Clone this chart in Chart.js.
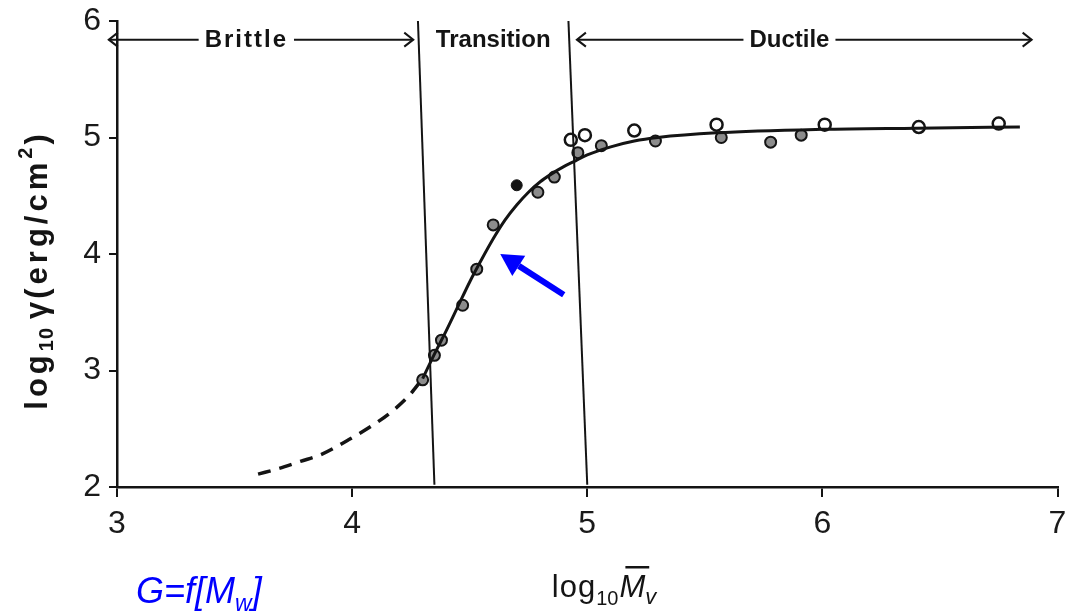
<!DOCTYPE html>
<html>
<head>
<meta charset="utf-8">
<script src="https://cdn.jsdelivr.net/npm/chart.js@4"></script>
<style>
  html, body { margin: 0; padding: 0; background: #fff; }
  #c { display: block; }
</style>
</head>
<body>
<canvas id="c" width="1066" height="612"></canvas>
<script>
// axis ticks
const xTicks = [3, 4, 5, 6, 7];
const yTicks = [2, 3, 4, 5, 6];

// measured points (log10 Mv, log10 gamma)
const hatchX = [4.30, 4.35, 4.38, 4.47, 4.53, 4.60, 4.79, 4.86, 4.96, 5.06, 5.29, 5.57, 5.78, 5.91];
const hatchY = [2.92, 3.13, 3.26, 3.56, 3.87, 4.25, 4.53, 4.66, 4.87, 4.93, 4.97, 5.00, 4.96, 5.02];
const openX = [4.93, 4.99, 5.20, 5.55, 6.01, 6.41, 6.75];
const openY = [4.98, 5.02, 5.06, 5.11, 5.11, 5.09, 5.12];
const filledX = [4.70];
const filledY = [4.59];

// fitted curve, solid part and extrapolated (dashed) part
const curveX = [4.30, 4.35, 4.40, 4.45, 4.50, 4.55, 4.60, 4.65, 4.70, 4.75, 4.80, 4.85, 4.90, 4.95, 5.00, 5.10, 5.20, 5.30, 5.55, 6.00, 6.40, 6.84];
const curveY = [2.93, 3.14, 3.34, 3.55, 3.76, 3.95, 4.13, 4.29, 4.42, 4.53, 4.62, 4.69, 4.75, 4.80, 4.85, 4.92, 4.97, 5.00, 5.04, 5.07, 5.08, 5.09];
const dashX = [3.60, 3.69, 3.78, 3.87, 3.98, 4.08, 4.17, 4.24, 4.30];
const dashY = [2.11, 2.16, 2.22, 2.28, 2.40, 2.52, 2.65, 2.78, 2.93];

// region boundaries (slightly skewed in the scan): [top x, bottom x]
const bound1X = [4.28, 4.35];
const bound2X = [4.92, 5.00];
const boundY = [6.0, 2.02];

// region labels
const regionNames = ["Brittle", "Transition", "Ductile"];
const regionCenter = [3.55, 4.60, 5.86];
const regionFrom = [2.965, null, 4.956];
const regionTo = [4.26, null, 6.89];
const regionY = 5.84;

// blue pointer arrow [tail, tip]
const pointerX = [4.90, 4.63];
const pointerY = [3.65, 4.00];

const pts = (xs, ys) => xs.map((v, i) => ({ x: v, y: ys[i] }));
const INK = "#141414";

function chevron(ctx, x, y, dir) {
  ctx.beginPath();
  ctx.moveTo(x - dir * 9, y - 7);
  ctx.lineTo(x, y);
  ctx.lineTo(x - dir * 9, y + 7);
  ctx.stroke();
}

function drawPieces(ctx, pieces, x0, y0) {
  let x = x0;
  pieces.forEach(p => {
    ctx.font = p.font;
    ctx.letterSpacing = p.ls || "0px";
    ctx.fillText(p.t, x, y0 + (p.dy || 0));
    const w = ctx.measureText(p.t).width;
    if (p.bar) {
      ctx.fillRect(x + 6, y0 - 31, w - 2, 2.5);
    }
    x += w + (p.gap || 0);
  });
  return x - x0;
}

function widthOf(ctx, pieces) {
  let w = 0;
  pieces.forEach(p => {
    ctx.font = p.font;
    ctx.letterSpacing = p.ls || "0px";
    w += ctx.measureText(p.t).width + (p.gap || 0);
  });
  return w;
}

const overlay = {
  id: "overlay",
  afterDraw(chart) {
    const { ctx, scales: { x, y } } = chart;
    ctx.save();
    ctx.fillStyle = INK;
    ctx.strokeStyle = INK;
    ctx.lineWidth = 2;

    // region labels with arrows
    ctx.textBaseline = "middle";
    ctx.textAlign = "center";
    const ly = y.getPixelForValue(regionY);
    regionNames.forEach((name, i) => {
      const cx = x.getPixelForValue(regionCenter[i]);
      ctx.font = "bold 24px 'Liberation Sans', Arial, sans-serif";
      ctx.letterSpacing = i === 0 ? "2px" : "0px";
      const w = ctx.measureText(name).width;
      ctx.fillText(name, cx, ly + 1);
      ctx.letterSpacing = "0px";
      if (regionFrom[i] !== null) {
        const a = x.getPixelForValue(regionFrom[i]);
        const b = x.getPixelForValue(regionTo[i]);
        ctx.beginPath();
        ctx.moveTo(a, ly); ctx.lineTo(cx - w / 2 - 6, ly);
        ctx.moveTo(cx + w / 2 + 6, ly); ctx.lineTo(b, ly);
        ctx.stroke();
        chevron(ctx, a, ly, -1);
        chevron(ctx, b, ly, 1);
      }
    });

    // y axis title (rotated)
    ctx.textAlign = "left";
    ctx.textBaseline = "alphabetic";
    const yf = "bold 31px 'Liberation Sans', Arial, sans-serif";
    const ys = "bold 20px 'Liberation Sans', Arial, sans-serif";
    const yPieces = [
      { t: "log", font: yf, ls: "4px" },
      { t: "10", font: ys, dy: 6, ls: "1px", gap: 8 },
      { t: "γ", font: yf, gap: 3 },
      { t: "(erg/cm", font: yf, ls: "4px" },
      { t: "2", font: ys, dy: -15, gap: 3 },
      { t: ")", font: yf }
    ];
    ctx.save();
    ctx.translate(47, 272);
    ctx.rotate(-Math.PI / 2);
    const yw = widthOf(ctx, yPieces);
    drawPieces(ctx, yPieces, -yw / 2, 0);
    ctx.restore();

    // x axis title
    const xf = "31px 'Liberation Sans', Arial, sans-serif";
    const xPieces = [
      { t: "log", font: xf, ls: "1px" },
      { t: "10", font: "20px 'Liberation Sans', Arial, sans-serif", dy: 8, gap: 1 },
      { t: "M", font: "italic 31px 'Liberation Sans', Arial, sans-serif", bar: true },
      { t: "v", font: "italic 22px 'Liberation Sans', Arial, sans-serif", dy: 7 }
    ];
    const xw = widthOf(ctx, xPieces);
    drawPieces(ctx, xPieces, 604 - xw / 2, 597);

    // blue caption
    ctx.fillStyle = "#0000ff";
    const bf = "italic 36px 'Liberation Sans', Arial, sans-serif";
    drawPieces(ctx, [
      { t: "G=f[M", font: bf },
      { t: "w", font: "italic 23px 'Liberation Sans', Arial, sans-serif", dy: 8 },
      { t: "]", font: bf }
    ], 136, 603);

    // blue pointer arrow
    const tx = x.getPixelForValue(pointerX[0]), ty = y.getPixelForValue(pointerY[0]);
    const hx = x.getPixelForValue(pointerX[1]), hy = y.getPixelForValue(pointerY[1]);
    const ang = Math.atan2(hy - ty, hx - tx);
    const headL = 22, headW = 12;
    const bx = hx - headL * Math.cos(ang), by = hy - headL * Math.sin(ang);
    ctx.strokeStyle = "#0000ff";
    ctx.lineWidth = 6;
    ctx.lineCap = "butt";
    ctx.beginPath();
    ctx.moveTo(tx, ty); ctx.lineTo(bx, by);
    ctx.stroke();
    ctx.beginPath();
    ctx.moveTo(hx, hy);
    ctx.lineTo(bx + headW * Math.sin(ang), by - headW * Math.cos(ang));
    ctx.lineTo(bx - headW * Math.sin(ang), by + headW * Math.cos(ang));
    ctx.closePath();
    ctx.fill();

    ctx.restore();
  }
};

const axisFont = { family: "'Liberation Sans', Arial, sans-serif", size: 32 };

new Chart(document.getElementById("c"), {
  type: "scatter",
  data: {
    datasets: [
      {
        label: "boundary 1",
        data: pts(bound1X, boundY),
        showLine: true,
        borderColor: INK,
        borderWidth: 2,
        pointRadius: 0
      },
      {
        label: "boundary 2",
        data: pts(bound2X, boundY),
        showLine: true,
        borderColor: INK,
        borderWidth: 2,
        pointRadius: 0
      },
      {
        label: "extrapolated",
        data: pts(dashX, dashY),
        showLine: true,
        borderColor: INK,
        borderWidth: 3.5,
        borderDash: [13, 9],
        cubicInterpolationMode: "monotone",
        pointRadius: 0
      },
      {
        label: "fit",
        data: pts(curveX, curveY),
        showLine: true,
        borderColor: INK,
        borderWidth: 3,
        cubicInterpolationMode: "monotone",
        pointRadius: 0
      },
      {
        label: "hatched",
        data: pts(hatchX, hatchY),
        pointRadius: 5.5,
        pointBackgroundColor: "#8c8c8c",
        pointBorderColor: INK,
        pointBorderWidth: 2
      },
      {
        label: "open",
        data: pts(openX, openY),
        pointRadius: 6,
        pointBackgroundColor: "#ffffff",
        pointBorderColor: INK,
        pointBorderWidth: 2.5
      },
      {
        label: "filled",
        data: pts(filledX, filledY),
        pointRadius: 5.5,
        pointBackgroundColor: INK,
        pointBorderColor: INK,
        pointBorderWidth: 1
      }
    ]
  },
  options: {
    responsive: false,
    animation: false,
    layout: { padding: { top: 21, right: 6, left: 0, bottom: 0 } },
    plugins: {
      legend: { display: false },
      tooltip: { enabled: false }
    },
    scales: {
      x: {
        type: "linear",
        min: 3,
        max: 7,
        afterBuildTicks: (s) => { s.ticks = xTicks.map(v => ({ value: v })); },
        afterFit: (s) => { s.height = 125; s.paddingLeft = 0; s.paddingRight = 0; },
        ticks: { font: axisFont, color: "#1a1a1a", padding: 8, callback: (v) => String(v) },
        grid: { drawOnChartArea: false, drawTicks: true, tickLength: 10, color: INK, lineWidth: 2 },
        border: { display: true, color: INK, width: 2.5 }
      },
      y: {
        type: "linear",
        min: 2,
        max: 6,
        afterBuildTicks: (s) => { s.ticks = yTicks.map(v => ({ value: v })); },
        afterFit: (s) => { s.width = 117; s.paddingTop = 0; s.paddingBottom = 0; },
        ticks: { font: axisFont, color: "#1a1a1a", padding: 8, callback: (v) => String(v) },
        grid: { drawOnChartArea: false, drawTicks: true, tickLength: 8, color: INK, lineWidth: 2 },
        border: { display: true, color: INK, width: 2.5 }
      }
    }
  },
  plugins: [overlay]
});
</script>
</body>
</html>
